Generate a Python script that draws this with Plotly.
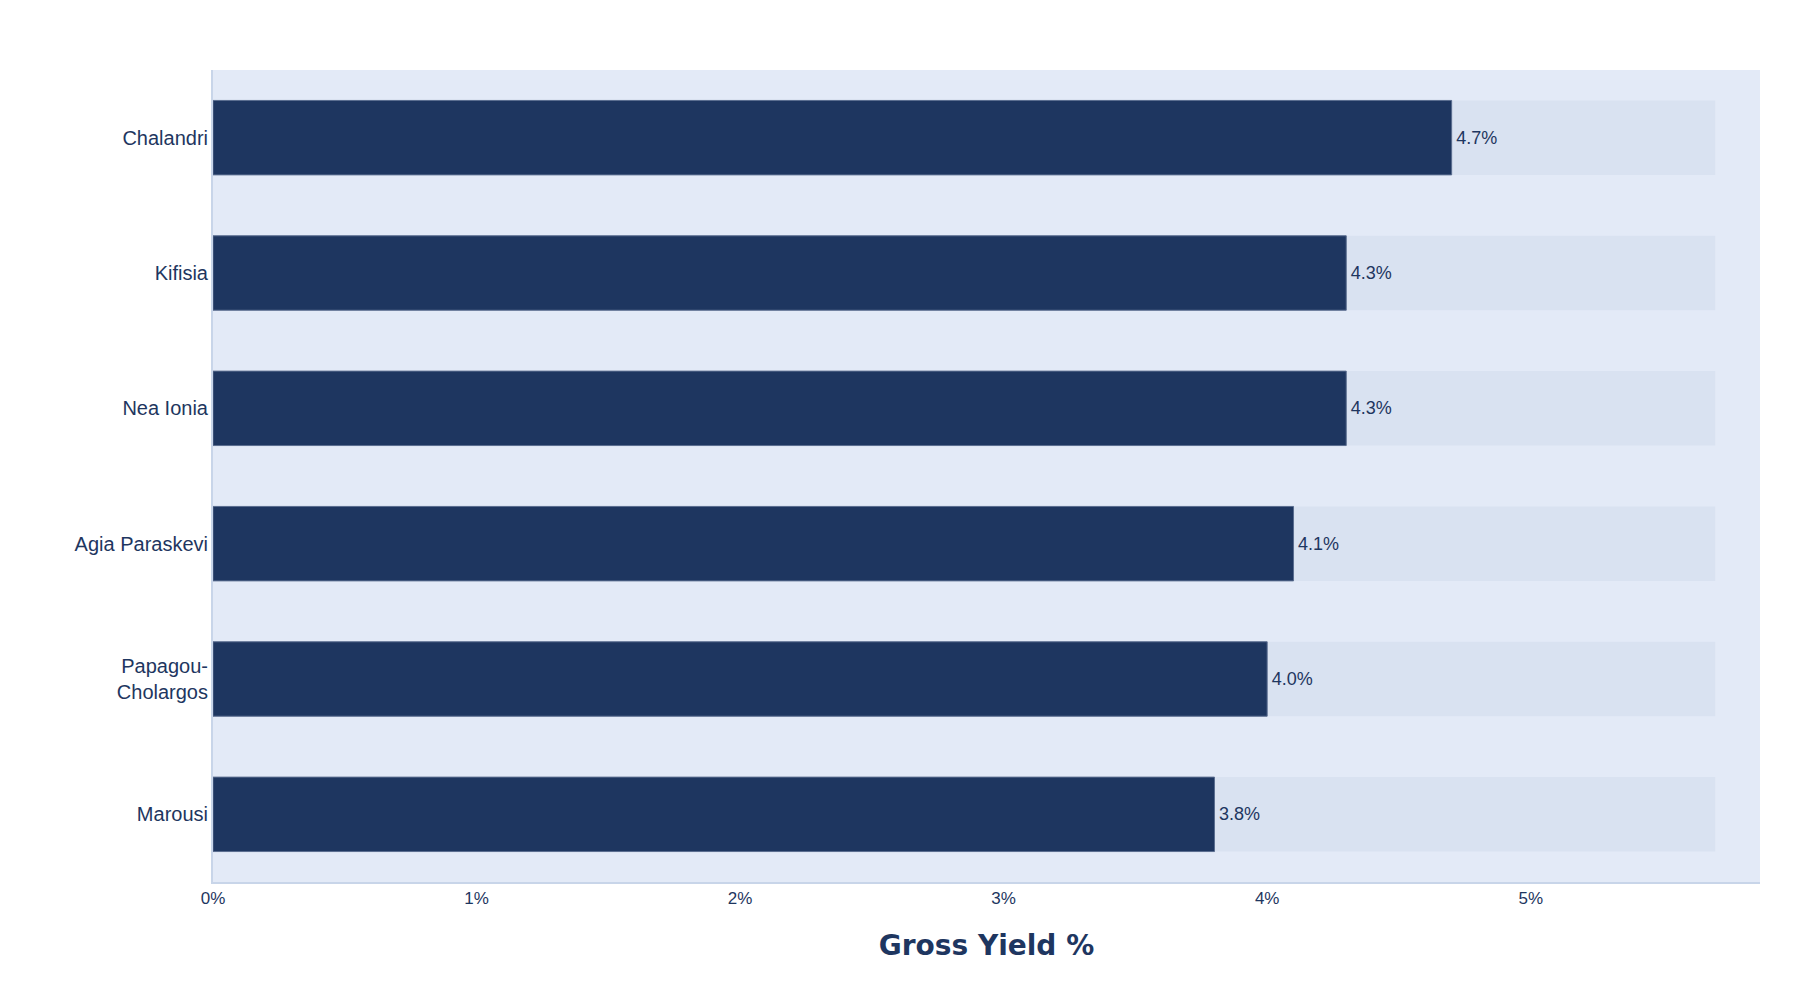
import plotly.graph_objects as go

areas = ["Chalandri", "Kifisia", "Nea Ionia", "Agia Paraskevi", "Papagou-<br>Cholargos", "Marousi"]
gross_yield = [4.7, 4.3, 4.3, 4.1, 4.0, 3.8]
track_max = [5.7] * len(areas)
x_ticks = [0, 1, 2, 3, 4, 5]

navy = "#1e3660"

fig = go.Figure()
# pale track behind each bar
fig.add_trace(go.Bar(
    y=areas, x=track_max, orientation="h",
    marker=dict(color="#d9e2f1", line=dict(width=0)),
    hoverinfo="skip", showlegend=False, width=0.55,
))
fig.add_trace(go.Bar(
    y=areas, x=gross_yield, orientation="h",
    marker=dict(color=navy, line=dict(color="#5a6d8f", width=1)),
    text=[f"\u200a{v:.1f}%" for v in gross_yield],
    textposition="outside",
    textfont=dict(family="Liberation Sans, Arial", size=18, color=navy),
    showlegend=False, width=0.55,
))

fig.update_layout(
    barmode="overlay",
    width=1800, height=1000,
    margin=dict(l=205, r=48, t=62, b=126),
    paper_bgcolor="white",
    plot_bgcolor="#e3eaf7",
    font=dict(family="Liberation Sans, Arial", color=navy),
)
fig.update_xaxes(
    range=[0, 5.87],
    tickvals=x_ticks, ticktext=[f"{t}%" for t in x_ticks],
    tickfont=dict(size=17, color=navy),
    showgrid=False, zeroline=False,
    showline=True, linecolor="#c8d5e9", linewidth=2,
    title=dict(text="<b>Gross Yield %</b>",
               font=dict(family="Arial Black, DejaVu Sans", size=28, color=navy),
               standoff=28),
)
fig.update_yaxes(
    autorange="reversed",
    tickfont=dict(size=20, color=navy),
    showgrid=False, zeroline=False,
    showline=True, linecolor="#c8d5e9", linewidth=2,
    ticks="", ticklabelstandoff=-1,
)

fig.write_html("out.html")
